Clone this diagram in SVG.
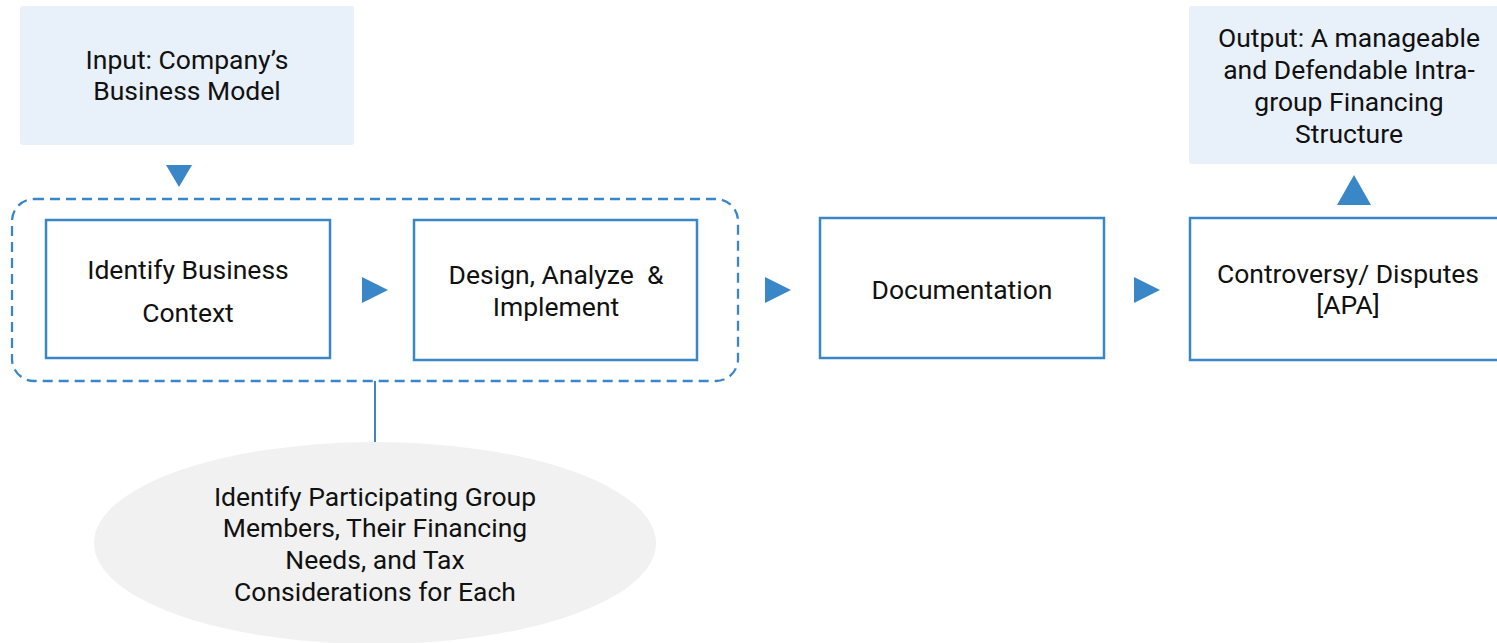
<svg xmlns="http://www.w3.org/2000/svg" width="1497" height="643" viewBox="0 0 1497 643">
<style>
.t{font-family:Roboto,"Liberation Sans",sans-serif;font-size:26.5px;fill:#111;text-anchor:middle;white-space:pre}
.box{fill:#fff;stroke:#3a87c8;stroke-width:2.5}
.io{fill:#e8f0fa}
.tri{fill:#3a87c8}
</style>
<g id="input">
<rect class="io" x="20" y="6" width="334" height="139" rx="3"/>
<text class="t" x="187" y="69">Input: Company’s</text>
<text class="t" x="187" y="100">Business Model</text>
</g>
<g id="output">
<rect class="io" x="1189" y="6" width="310" height="158" rx="3"/>
<text class="t" x="1349" y="47">Output: A manageable</text>
<text class="t" x="1349" y="79">and Defendable Intra-</text>
<text class="t" x="1349" y="111">group Financing</text>
<text class="t" x="1349" y="143">Structure</text>
</g>
<g id="group">
<rect x="12" y="199" width="726" height="182" rx="22" fill="none" stroke="#3a87c8" stroke-width="2.3" stroke-dasharray="10,6"/>
</g>
<g id="identify">
<rect class="box" x="46" y="220" width="284" height="138"/>
<text class="t" x="188" y="279">Identify Business</text>
<text class="t" x="188" y="322">Context</text>
</g>
<g id="design">
<rect class="box" x="414" y="220" width="283" height="140"/>
<text class="t" x="556" y="284" xml:space="preserve">Design, Analyze  &amp;</text>
<text class="t" x="556" y="316">Implement</text>
</g>
<g id="documentation">
<rect class="box" x="820" y="218" width="284" height="140"/>
<text class="t" x="962" y="299">Documentation</text>
</g>
<g id="controversy">
<rect class="box" x="1190" y="218" width="312" height="142"/>
<text class="t" x="1348" y="283">Controversy/ Disputes</text>
<text class="t" x="1348" y="314">[APA]</text>
</g>
<g id="participants">
<ellipse cx="375" cy="543" rx="281" ry="101" fill="#f0f1f0"/>
<text class="t" x="375" y="506">Identify Participating Group</text>
<text class="t" x="375" y="537">Members, Their Financing</text>
<text class="t" x="375" y="569">Needs, and Tax</text>
<text class="t" x="375" y="601">Considerations for Each</text>
</g>
<g id="connectors">
<polygon class="tri" points="166,165 192,165 179,187"/>
<polygon class="tri" points="362,277 388,290 362,303"/>
<polygon class="tri" points="765,277 791,290 765,303"/>
<polygon class="tri" points="1134,277 1160,290 1134,303"/>
<polygon class="tri" points="1337,205 1371,205 1354,175"/>
<line x1="375" y1="381" x2="375" y2="442" stroke="#3a87c8" stroke-width="2"/>
</g>
</svg>
